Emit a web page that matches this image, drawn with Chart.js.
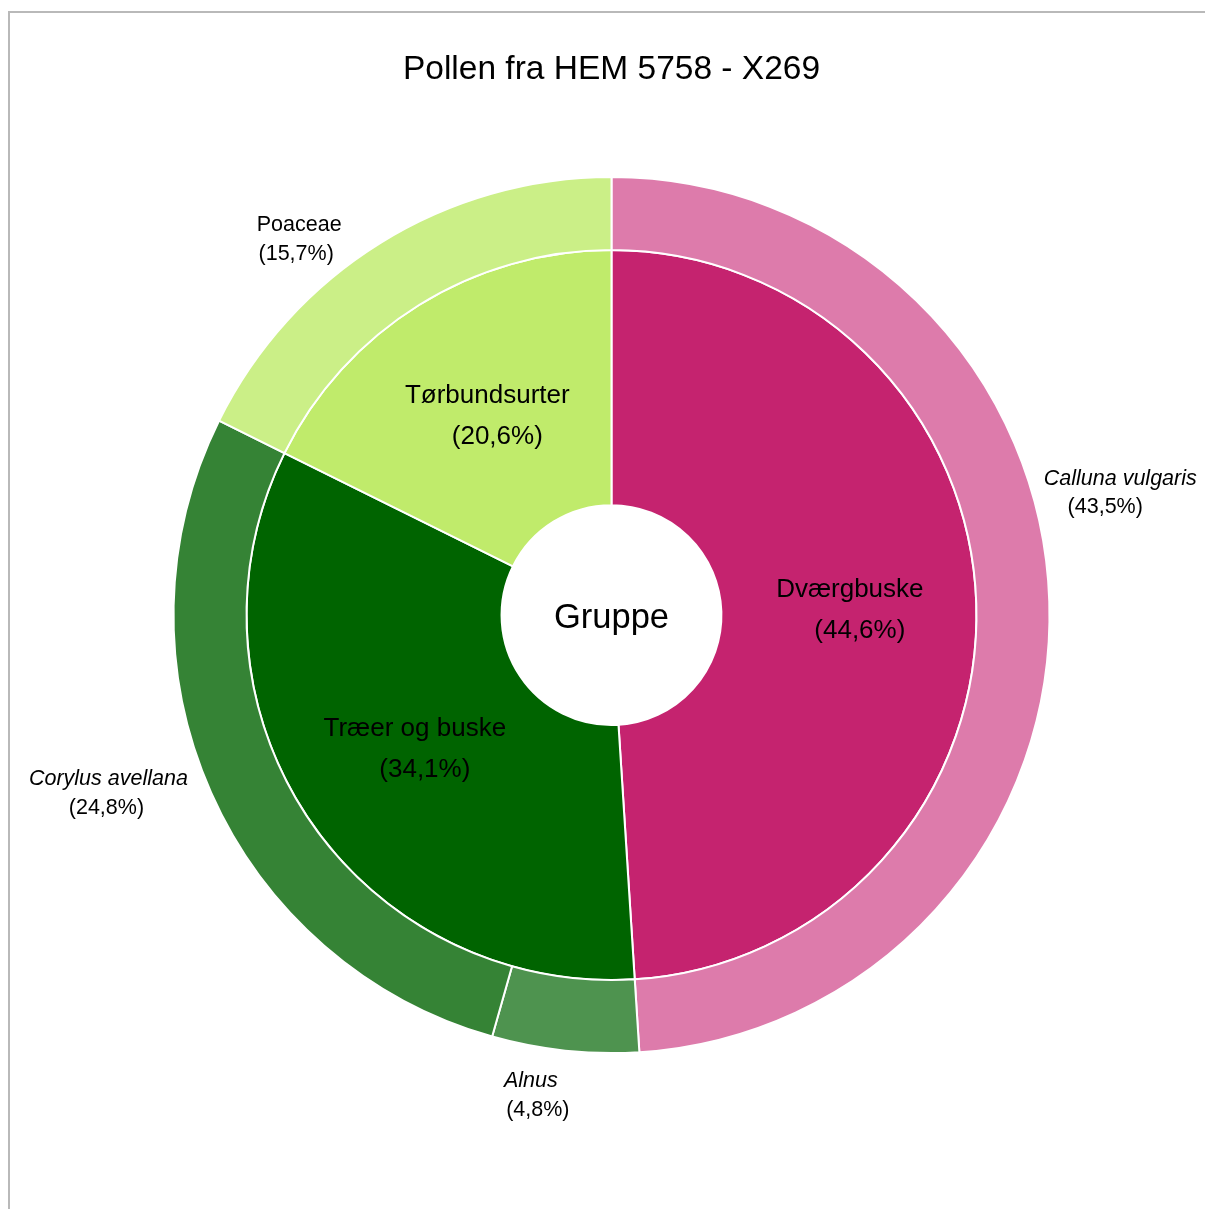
<!DOCTYPE html>
<html>
<head>
<meta charset="utf-8">
<title>Pollen fra HEM 5758 - X269</title>
<script src="https://cdn.jsdelivr.net/npm/chart.js@4.4.1/dist/chart.umd.min.js"></script>
<style>
    html, body { margin: 0; padding: 0; background: #fff; }
    #wrap { width: 1205px; height: 1209px; }
</style>
</head>
<body>
<div id="wrap"><canvas id="pollenChart" width="1205" height="1209"></canvas></div>
<script>
// Grupper (indre ring) og taxa (ydre ring)
const groupLabels = ['Dværgbuske', 'Træer og buske', 'Tørbundsurter'];
const groupShares = [44.6, 34.1, 20.6];
const groupColors = ['#C5236F', '#006400', '#C0EB6B'];

const taxonLabels = ['Calluna vulgaris', 'Alnus', 'Corylus avellana', 'Poaceae'];
const taxonShares = [43.5, 4.8, 24.8, 15.7];
const taxonGroup = [0, 1, 1, 2];
const taxonItalic = [true, true, true, false];
const taxonColors = ['#DD7BAB', '#4E934F', '#358335', '#CBEF87'];

// indre ring tegnes som summen af taxa i hver gruppe, så ringene flugter
const groupRing = groupLabels.map((g, gi) =>
    taxonShares.reduce((acc, v, ti) => taxonGroup[ti] === gi ? acc + v : acc, 0));

const fmt = v => '(' + v.toFixed(1).replace('.', ',') + '%)';
const FONT = "'Liberation Sans', Arial, sans-serif";

// forskydning af de ydre etiketter ift. buens midte: [dx, dy, dx for linje 2]
const taxonLabelShift = [[21, -121, -15], [-29, -19, 7], [-57, -34, -2], [-55, 25, -3]];

const framePlugin = {
    id: 'frame',
    beforeDraw(chart) {
        const ctx = chart.ctx;
        ctx.save();
        ctx.strokeStyle = '#b9b9b9';
        ctx.lineWidth = 2;
        ctx.beginPath();
        ctx.moveTo(9, chart.height);
        ctx.lineTo(9, 12);
        ctx.lineTo(chart.width, 12);
        ctx.stroke();
        ctx.restore();
    }
};

const labelPlugin = {
    id: 'ringLabels',
    afterDatasetsDraw(chart) {
        const ctx = chart.ctx;
        ctx.save();
        ctx.fillStyle = '#000';
        ctx.textAlign = 'center';
        ctx.textBaseline = 'middle';

        // indre ring: navn + andel midt i buen
        const inner = chart.getDatasetMeta(1);
        ctx.font = '26px ' + FONT;
        inner.data.forEach((arc, i) => {
            const p = arc.getCenterPoint();
            ctx.fillText(groupLabels[i], p.x + 1, p.y - 18);
            ctx.fillText(fmt(groupShares[i]), p.x + 11, p.y + 23);
        });

        // ydre ring: etiketter uden for cirklen
        const outer = chart.getDatasetMeta(0);
        outer.data.forEach((arc, i) => {
            const mid = (arc.startAngle + arc.endAngle) / 2;
            const r = arc.outerRadius + 50;
            const ax = arc.x + Math.cos(mid) * r;
            const ay = arc.y + Math.sin(mid) * r;
            const [dx, dy, dx2] = taxonLabelShift[i];
            ctx.font = (taxonItalic[i] ? 'italic ' : '') + '21.5px ' + FONT;
            ctx.fillText(taxonLabels[i], ax + dx, ay + dy);
            ctx.font = '21.5px ' + FONT;
            ctx.fillText(fmt(taxonShares[i]), ax + dx + dx2, ay + dy + 29);
        });

        // tekst i hullet
        const a0 = inner.data[0];
        ctx.font = '34.5px ' + FONT;
        ctx.fillText('Gruppe', a0.x, a0.y + 3);
        ctx.restore();
    }
};

new Chart(document.getElementById('pollenChart'), {
    type: 'doughnut',
    data: {
        labels: taxonLabels,
        datasets: [{
            label: 'Taxa',
            data: taxonShares,
            backgroundColor: taxonColors,
            borderColor: '#fff',
            borderWidth: 2,
            weight: 73
        }, {
            label: 'Gruppe',
            data: groupRing,
            backgroundColor: groupColors,
            borderColor: '#fff',
            borderWidth: 2,
            weight: 255
        }]
    },
    options: {
        responsive: false,
        devicePixelRatio: 1,
        animation: false,
        radius: 438,
        cutout: '25.1%',
        layout: { padding: { left: 18, right: 0, top: 0, bottom: 76 } },
        plugins: {
            legend: { display: false },
            tooltip: { enabled: false },
            title: {
                display: true,
                text: 'Pollen fra HEM 5758 - X269',
                color: '#000',
                font: { family: FONT, size: 33.5, weight: 'normal', lineHeight: 1.2 },
                padding: { top: 50, bottom: 7 }
            }
        }
    },
    plugins: [framePlugin, labelPlugin]
});
</script>
</body>
</html>
